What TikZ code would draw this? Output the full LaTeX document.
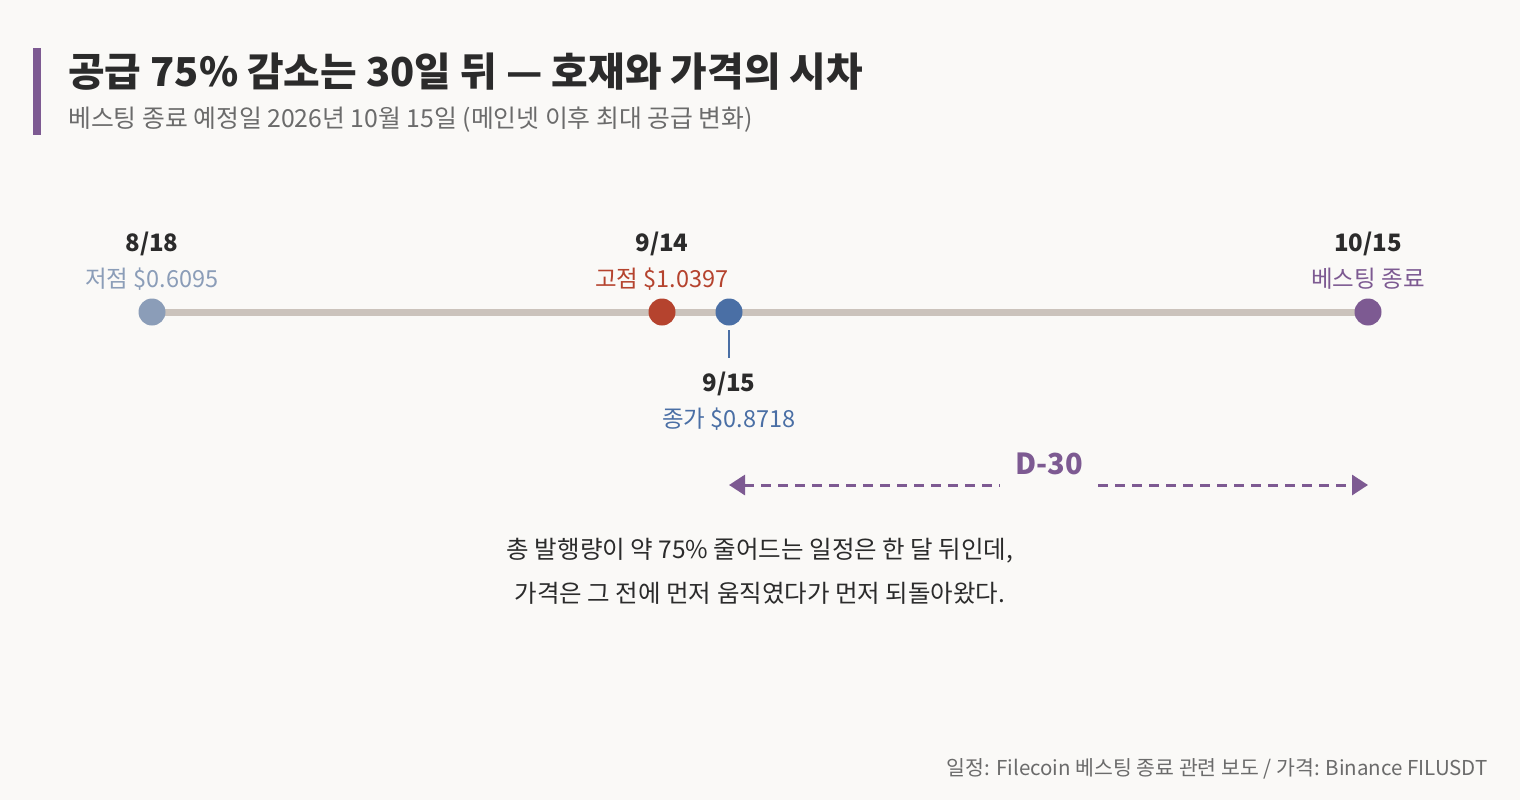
\documentclass[tikz,border=0pt]{standalone}
\usepackage{fontspec}
\setmainfont{Noto Sans CJK KR}
\usetikzlibrary{arrows.meta}
\definecolor{bg}{HTML}{FAF9F7}
\definecolor{accent}{HTML}{7D5A92}
\definecolor{ink}{HTML}{2B2B2B}
\definecolor{subgrey}{HTML}{6B6B6B}
\definecolor{track}{HTML}{CBC3BC}
\definecolor{lowc}{HTML}{8B9DB8}
\definecolor{highc}{HTML}{B5432E}
\definecolor{closec}{HTML}{4A6FA5}
\tikzset{
  datelbl/.style={anchor=base, text=ink, font=\fontsize{24}{24}\selectfont\bfseries, inner sep=0},
  pricelbl/.style={anchor=base, font=\fontsize{23.5}{23.5}\selectfont, inner sep=0},
  dot/.style={circle, fill=#1, minimum size=27pt, inner sep=0},
  bodytxt/.style={anchor=base, text=ink, font=\fontsize{24.5}{24.5}\selectfont, inner sep=0},
}
\begin{document}
\begin{tikzpicture}[x=1pt,y=-1pt]
\fill[bg] (0,0) rectangle (1520,800);
\useasboundingbox (0,0) rectangle (1520,800);
% accent bar
\fill[accent] (33,48) rectangle (41,135);
\node[anchor=base west, inner sep=0, text=ink, font=\fontsize{39.8}{39.8}\selectfont\bfseries] (title) at (68,86) {공급 75\% 감소는 30일 뒤 — 호재와 가격의 시차};
\node[anchor=base west, inner sep=0, text=subgrey, font=\fontsize{24.8}{24.8}\selectfont] (subtitle) at (68,127) {베스팅 종료 예정일 2026년 10월 15일 (메인넷 이후 최대 공급 변화)};
% timeline
\coordinate (tl) at (152,312);
\coordinate (tr) at (1368,312);
\draw[track, line width=7pt] (tl) -- (tr);
\node[dot=lowc] (p1) at (152,312) {};
\node[dot=highc] (p2) at (662,312) {};
\node[dot=closec] (p3) at (729,312) {};
\node[dot=accent] (p4) at (1368,312) {};
% labels
\node[datelbl] (d1) at (152,251) {8/18};
\node[pricelbl, text=lowc] (l1) at (152,287) {저점 \$0.6095};
\node[datelbl] (d2) at (662,251) {9/14};
\node[pricelbl, text=highc] (l2) at (662,287) {고점 \$1.0397};
\node[datelbl] (d4) at (1368,251) {10/15};
\node[pricelbl, text=accent] (l4) at (1368,287) {베스팅 종료};
% 9/15 below
\coordinate (tk1) at (729,330);
\coordinate (tk2) at (729,358);
\draw[closec, line width=2pt] (tk1) -- (tk2);
\node[datelbl] (d3) at (729,391) {9/15};
\node[pricelbl, text=closec] (l3) at (729,427) {종가 \$0.8718};
% D-30
\node[anchor=base, inner sep=0, text=accent, font=\fontsize{29}{29}\selectfont\bfseries] (dlab) at (1049,474) {D-30};
\coordinate (a1) at (729,485);
\coordinate (a2) at (1000,485);
\coordinate (a3) at (1098,485);
\coordinate (a4) at (1368,485);
\draw[accent, line width=3pt, dash pattern=on 10pt off 7pt, {Triangle[length=16pt,width=20pt]}-] (a1) -- (a2);
\draw[accent, line width=3pt, dash pattern=on 10pt off 7pt, -{Triangle[length=16pt,width=20pt]}] (a3) -- (a4);
% body
\node[bodytxt] (b1) at (760,558) {총 발행량이 약 75\% 줄어드는 일정은 한 달 뒤인데,};
\node[bodytxt] (b2) at (760,602) {가격은 그 전에 먼저 움직였다가 먼저 되돌아왔다.};
% footer
\node[anchor=base east, inner sep=0, text=subgrey, font=\fontsize{20.5}{20.5}\selectfont] (foot) at (1488,775) {일정: Filecoin 베스팅 종료 관련 보도 / 가격: Binance FILUSDT};
\end{tikzpicture}
\end{document}
